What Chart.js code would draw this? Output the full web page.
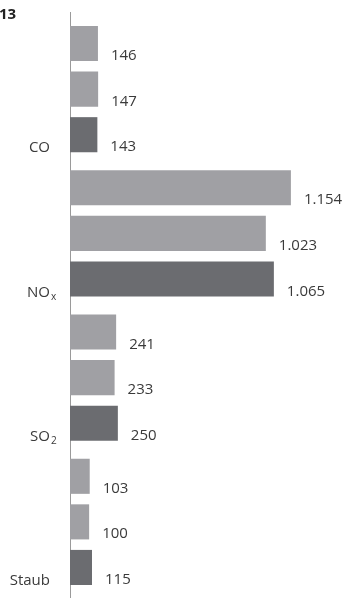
<!DOCTYPE html>
<html>
<head>
<meta charset="utf-8">
<script src="https://cdn.jsdelivr.net/npm/chart.js@4"></script>
<style>
  html, body { margin: 0; padding: 0; background: #fff; }
  #wrap { position: relative; width: 346px; height: 598px; }
</style>
</head>
<body>
<div id="wrap"><canvas id="barChart"></canvas></div>
<script>
// Kategorien (Hauptteil + Tiefstellung)
const kategorien = ['CO', 'NOx', 'SO2', 'Staub'];
const katHaupt = ['CO', 'NO', 'SO', 'Staub'];
const katTief = ['', 'x', '2', ''];

// drei Reihen je Schadstoff
const reihe1 = [146, 1154, 241, 103];
const reihe2 = [147, 1023, 233, 100];
const reihe3 = [143, 1065, 250, 115];

const hell = '#a0a0a4';
const dunkel = '#6b6c70';
const textFarbe = '#3a3a3a';
const schrift = '"Open Sans", "Noto Sans", sans-serif';

function zahl(v) {
    return String(v).replace(/\B(?=(\d{3})+(?!\d))/g, '.');
}

const beschriftung = {
    id: 'beschriftung',
    beforeDatasetsDraw(chart) {
        const ctx = chart.ctx;
        const a = chart.chartArea;
        ctx.save();
        ctx.strokeStyle = '#9a9a9a';
        ctx.lineWidth = 1;
        ctx.beginPath();
        ctx.moveTo(a.left + 0.5, 12);
        ctx.lineTo(a.left + 0.5, chart.height);
        ctx.stroke();
        ctx.restore();
    },
    afterDatasetsDraw(chart) {
        const ctx = chart.ctx;
        ctx.save();
        ctx.fillStyle = textFarbe;
        ctx.font = '15px ' + schrift;
        ctx.textBaseline = 'alphabetic';
        // Werte rechts neben den Balken, an der Unterkante
        chart.data.datasets.forEach((ds, i) => {
            chart.getDatasetMeta(i).data.forEach((bar, j) => {
                ctx.textAlign = 'left';
                ctx.fillText(zahl(ds.data[j]), bar.x + 13, bar.y + bar.height / 2 - 1);
            });
        });
        // Kategorien links, auf Höhe des letzten Balkens
        const letzte = chart.getDatasetMeta(chart.data.datasets.length - 1).data;
        letzte.forEach((bar, j) => {
            const y = bar.y + bar.height / 2;
            ctx.font = '15px ' + schrift;
            ctx.textAlign = 'right';
            ctx.fillText(katHaupt[j], 50, y);
            if (katTief[j]) {
                ctx.font = '10px ' + schrift;
                ctx.textAlign = 'left';
                ctx.fillText(katTief[j], 51, y + 3);
            }
        });
        // Rest der Überschrift oben links
        ctx.font = 'bold 15px ' + schrift;
        ctx.textAlign = 'left';
        ctx.fillStyle = '#222';
        ctx.fillText('13', -1, 19);
        ctx.restore();
    }
};

const barChart = new Chart(document.getElementById('barChart'), {
    type: 'bar',
    data: {
        labels: kategorien,
        datasets: [
            { label: 'Reihe 1', data: reihe1, backgroundColor: hell },
            { label: 'Reihe 2', data: reihe2, backgroundColor: hell },
            { label: 'Reihe 3', data: reihe3, backgroundColor: dunkel }
        ]
    },
    options: {
        indexAxis: 'y',
        responsive: true,
        maintainAspectRatio: false,
        animation: false,
        categoryPercentage: 0.948,
        barPercentage: 0.77,
        layout: { padding: { left: 70, right: 8, top: 17, bottom: 4 } },
        plugins: { legend: { display: false }, tooltip: { enabled: false } },
        scales: {
            x: { display: false, min: 0, max: 1400 },
            y: { display: false }
        }
    },
    plugins: [beschriftung]
});
</script>
</body>
</html>
